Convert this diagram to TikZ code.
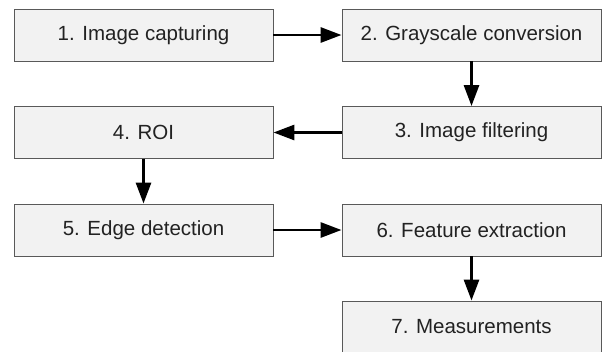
\documentclass[tikz,border=0pt]{standalone}
\usepackage{fontspec}
\setmainfont{Liberation Sans}
\usetikzlibrary{arrows.meta}
\definecolor{boxfill}{HTML}{F2F2F2}
\definecolor{boxborder}{HTML}{595959}
\definecolor{textcol}{HTML}{222222}
\begin{document}
\begin{tikzpicture}[x=1pt,y=-1pt,
  box/.style={draw=boxborder, fill=boxfill, line width=0.9pt, minimum width=259pt, minimum height=52pt, inner sep=0pt, font=\fontsize{20.5}{24}\selectfont, text=textcol},
  conn/.style={line width=2.9pt, -{Triangle[length=21pt,width=15pt]}}]
\useasboundingbox[fill=white] (0,0) rectangle (602,351);
\node[box] (b1) at (143.5,35) {1. Image capturing};
\node[box] (b2) at (471.5,35) {2. Grayscale conversion};
\node[box] (b3) at (471.5,132.5) {3. Image filtering};
\node[box] (b4) at (143.5,132.5) {4. ROI};
\node[box] (b5) at (143.5,230) {5. Edge detection};
\node[box] (b6) at (471.5,230) {6. Feature extraction};
\node[box] (b7) at (471.5,327) {7. Measurements};
\draw[conn] (b1) -- (b2);
\draw[conn] (b2) -- (b3);
\draw[conn] (b3) -- (b4);
\draw[conn] (b4) -- (b5);
\draw[conn] (b5) -- (b6);
\draw[conn] (b6) -- (b7);
\end{tikzpicture}
\end{document}
